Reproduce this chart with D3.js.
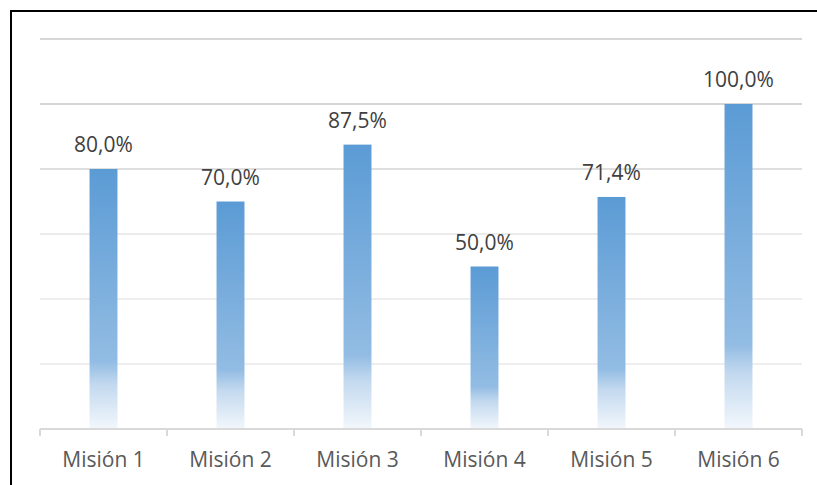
<!DOCTYPE html>
<html>
<head>
<meta charset="utf-8">
<script src="https://cdn.jsdelivr.net/npm/d3@7"></script>
<style>
  html, body { margin: 0; padding: 0; background: #fff; }
  svg { display: block; }
</style>
</head>
<body>
<svg id="chart" width="817" height="485"></svg>
<script>
const categories = ["Misión 1", "Misión 2", "Misión 3", "Misión 4", "Misión 5", "Misión 6"];
const values = [0.800, 0.700, 0.875, 0.500, 0.714, 1.000];
const valueLabels = ["80,0%", "70,0%", "87,5%", "50,0%", "71,4%", "100,0%"];
const gridTicks = [0.2, 0.4, 0.6, 0.8, 1.0, 1.2];

(function () {
const svg = d3.select("#chart");
const W = 817, H = 485;
const plotLeft = 40, plotRight = 802, plotTop = 39, plotBottom = 429;

svg.append("rect").attr("width", W).attr("height", H).attr("fill", "#fff");

// gradient
const defs = svg.append("defs");
const grad = defs.append("linearGradient").attr("id", "barGrad")
  .attr("x1", 0).attr("y1", 0).attr("x2", 0).attr("y2", 1);
[[0, "#5b9bd5"], [0.74, "#92bce3"], [0.83, "#c3d9ef"], [1, "#f2f7fc"]].forEach(([o, c]) => {
  grad.append("stop").attr("offset", o).attr("stop-color", c);
});

const y = d3.scaleLinear().domain([0, 1.2]).range([plotBottom, plotTop]);
const x = d3.scaleBand().domain(categories).range([plotLeft, plotRight]).paddingInner(0.78).paddingOuter(0.39);
const xb = d3.scaleBand().domain(categories).range([plotLeft, plotRight]).padding(0);

// gridlines
const gridColors = ["#e8e8e8", "#e8e8e8", "#e4e4e4", "#d4d4d4", "#c8c8c8", "#c8c8c8"];
svg.append("g").selectAll("line").data(gridTicks).join("line")
  .attr("x1", plotLeft).attr("x2", plotRight)
  .attr("y1", d => y(d)).attr("y2", d => y(d))
  .attr("stroke", (d, i) => gridColors[i]).attr("stroke-width", 1.5);

// bars
svg.append("g").selectAll("rect").data(values).join("rect")
  .attr("x", (d, i) => x(categories[i]))
  .attr("width", x.bandwidth())
  .attr("y", d => y(d))
  .attr("height", d => y(0) - y(d))
  .attr("fill", "url(#barGrad)");

// axis
const axis = d3.axisBottom(xb).tickSize(0).tickFormat("");
const ag = svg.append("g").attr("transform", `translate(0,${plotBottom})`).call(axis);
ag.select(".domain").attr("stroke", "#d9d9d9").attr("stroke-width", 2).attr("d", `M${plotLeft},0H${plotRight}`);
ag.selectAll(".tick").remove();
const boundaries = categories.map(c => xb(c)).concat([plotRight]);
ag.selectAll("line.sep").data(boundaries).join("line").attr("class", "sep")
  .attr("x1", d => d).attr("x2", d => d).attr("y1", 0).attr("y2", 7)
  .attr("stroke", "#d9d9d9").attr("stroke-width", 2);

// category labels
svg.append("g").selectAll("text").data(categories).join("text")
  .attr("x", d => xb(d) + xb.bandwidth() / 2)
  .attr("y", 467)
  .attr("text-anchor", "middle")
  .attr("font-family", "Open Sans")
  .attr("font-size", 21)
  .attr("fill", "#595959")
  .text(d => d);

// value labels
svg.append("g").selectAll("text").data(values).join("text")
  .attr("x", (d, i) => x(categories[i]) + x.bandwidth() / 2)
  .attr("y", d => y(d) - 17)
  .attr("text-anchor", "middle")
  .attr("font-family", "Open Sans")
  .attr("font-size", 21)
  .attr("fill", "#404040")
  .text((d, i) => valueLabels[i]);

// frame (partial border)
svg.append("line").attr("x1", 11).attr("x2", 11).attr("y1", 10).attr("y2", H).attr("stroke", "#000").attr("stroke-width", 2);
svg.append("line").attr("x1", 10).attr("x2", W).attr("y1", 11).attr("y2", 11).attr("stroke", "#000").attr("stroke-width", 2);
})();
</script>
</body>
</html>
